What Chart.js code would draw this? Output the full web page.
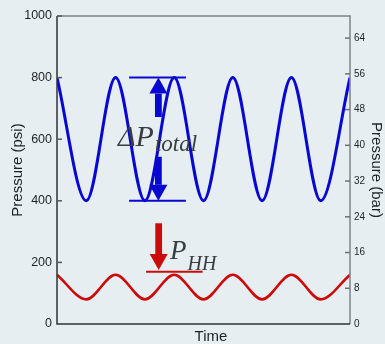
<!DOCTYPE html>
<html>
<head>
<meta charset="utf-8">
<script src="https://cdn.jsdelivr.net/npm/chart.js@4/dist/chart.umd.min.js"></script>
<style>
  html, body { margin: 0; padding: 0; background: #e6eef2; }
  #wrap { width: 385px; height: 344px; }
</style>
</head>
<body>
<div id="wrap"><canvas id="c"></canvas></div>
<script>
// time steps (half periods) and the two pressure traces, psi
const times = [0, 1, 2, 3, 4, 5, 6, 7, 8, 9, 10];
const totalPsi = [800, 400, 800, 400, 800, 400, 800, 400, 800, 400, 800];
const hhPsi = [160, 80, 160, 80, 160, 80, 160, 80, 160, 80, 160];

const psiTicks = [0, 200, 400, 600, 800, 1000];
const barTicks = [0, 8, 16, 24, 32, 40, 48, 56, 64];
const PSI_PER_BAR = 14.5038;

// annotation anchors in data units (x = time step, y = psi)
const deltaMarks = { x0: 2.46, x1: 4.40, hi: 800, lo: 400, arrowX: 3.46, upTail: 672, downTail: 543 };
const hhMarks = { x0: 3.04, x1: 4.97, y: 170, arrowX: 3.47, tail: 327, tip: 175 };

const BLUE = "#0808d0";
const RED = "#cc0a0a";
const TEXT = "#3a3d3f";

function drawArrow(ctx, x, yTail, yTip, color) {
    const dir = yTip < yTail ? -1 : 1;
    const headL = 16, headW = 9, shaft = 3.4;
    const yBase = yTip - dir * headL;
    ctx.fillStyle = color;
    ctx.fillRect(x - shaft, Math.min(yTail, yBase), shaft * 2, Math.abs(yBase - yTail));
    ctx.beginPath();
    ctx.moveTo(x - headW, yBase);
    ctx.lineTo(x + headW, yBase);
    ctx.lineTo(x, yTip);
    ctx.closePath();
    ctx.fill();
}

const decorations = {
    id: "decorations",
    afterDraw(chart) {
        const { ctx, chartArea: a, scales } = chart;
        const xs = scales.x, ys = scales.y, yb = scales.y1;
        ctx.save();

        // frame: top + right grey, left + bottom dark
        ctx.lineWidth = 1.5;
        ctx.strokeStyle = "#7d8285";
        ctx.beginPath();
        ctx.moveTo(a.left, a.top);
        ctx.lineTo(a.right, a.top);
        ctx.lineTo(a.right, a.bottom);
        ctx.stroke();
        ctx.strokeStyle = "#2f3336";
        ctx.beginPath();
        ctx.moveTo(a.left, a.top);
        ctx.lineTo(a.left, a.bottom);
        ctx.lineTo(a.right, a.bottom);
        ctx.stroke();

        // inward tick marks
        ctx.lineWidth = 1.5;
        ctx.strokeStyle = "#55595c";
        ys.ticks.forEach((t) => {
            const y = ys.getPixelForValue(t.value);
            if (t.value === 0) return;
            ctx.beginPath();
            ctx.moveTo(a.left, y);
            ctx.lineTo(a.left + 5, y);
            ctx.stroke();
        });
        ctx.strokeStyle = "#6d7174";
        yb.ticks.forEach((t) => {
            const y = yb.getPixelForValue(t.value);
            if (t.value === 0) return;
            ctx.beginPath();
            ctx.moveTo(a.right - 5, y);
            ctx.lineTo(a.right, y);
            ctx.stroke();
        });

        // delta P total markers
        ctx.lineWidth = 2;
        ctx.strokeStyle = BLUE;
        [deltaMarks.hi, deltaMarks.lo].forEach((v) => {
            const y = ys.getPixelForValue(v);
            ctx.beginPath();
            ctx.moveTo(xs.getPixelForValue(deltaMarks.x0), y);
            ctx.lineTo(xs.getPixelForValue(deltaMarks.x1), y);
            ctx.stroke();
        });
        const ax = xs.getPixelForValue(deltaMarks.arrowX);
        drawArrow(ctx, ax, ys.getPixelForValue(deltaMarks.upTail), ys.getPixelForValue(deltaMarks.hi), BLUE);
        drawArrow(ctx, ax, ys.getPixelForValue(deltaMarks.downTail), ys.getPixelForValue(deltaMarks.lo), BLUE);

        // P HH marker
        ctx.strokeStyle = RED;
        const hy = ys.getPixelForValue(hhMarks.y);
        ctx.beginPath();
        ctx.moveTo(xs.getPixelForValue(hhMarks.x0), hy);
        ctx.lineTo(xs.getPixelForValue(hhMarks.x1), hy);
        ctx.stroke();
        drawArrow(ctx, xs.getPixelForValue(hhMarks.arrowX), ys.getPixelForValue(hhMarks.tail), ys.getPixelForValue(hhMarks.tip), RED);

        // labels
        ctx.fillStyle = TEXT;
        ctx.textAlign = "left";
        ctx.textBaseline = "alphabetic";
        const serif = "'Liberation Serif', 'DejaVu Serif', serif";
        let tx = 118, ty = 146;
        ctx.font = "italic 30px " + serif;
        ctx.fillText("\u0394P", tx, ty);
        tx += ctx.measureText("\u0394P").width + 1;
        ctx.font = "italic 23px " + serif;
        ctx.fillText("total", tx, ty + 5);

        tx = 170; ty = 259;
        ctx.font = "italic 27px " + serif;
        ctx.fillText("P", tx, ty);
        tx += ctx.measureText("P").width + 1;
        ctx.font = "italic 20px " + serif;
        ctx.fillText("HH", tx, ty + 11);

        // x title
        ctx.fillStyle = "#1e2124";
        ctx.font = "15px 'Liberation Sans', Arial, sans-serif";
        ctx.textAlign = "center";
        ctx.textBaseline = "middle";
        ctx.fillText("Time", 211, 337);
        ctx.restore();
    },
};

new Chart(document.getElementById("c"), {
    type: "line",
    data: {
        datasets: [
            {
                label: "Total pressure",
                data: times.map((t, i) => ({ x: t, y: totalPsi[i] })),
                borderColor: BLUE,
                borderWidth: 3,
                pointRadius: 0,
                cubicInterpolationMode: "monotone",
                yAxisID: "y",
            },
            {
                label: "Hydrostatic head",
                data: times.map((t, i) => ({ x: t, y: hhPsi[i] })),
                borderColor: RED,
                borderWidth: 2.6,
                pointRadius: 0,
                cubicInterpolationMode: "monotone",
                yAxisID: "y",
            },
        ],
    },
    options: {
        responsive: true,
        maintainAspectRatio: false,
        animation: false,
        layout: { padding: { top: 16 } },
        plugins: { legend: { display: false }, tooltip: { enabled: false } },
        scales: {
            x: {
                type: "linear",
                min: 0,
                max: 10,
                grid: { display: false, drawTicks: false },
                border: { display: false },
                ticks: { display: false },
                afterFit: (s) => { s.height = 20; },
            },
            y: {
                type: "linear",
                position: "left",
                min: 0,
                max: 1000,
                grid: { display: false, drawTicks: false },
                border: { display: false },
                afterBuildTicks: (s) => { s.ticks = psiTicks.map((v) => ({ value: v })); },
                ticks: {
                    padding: 5,
                    color: "#1e2124",
                    font: { family: "'Liberation Sans', Arial, sans-serif", size: 12.5 },
                    callback: (v) => String(v),
                },
                title: {
                    display: true,
                    text: "Pressure (psi)",
                    color: "#1e2124",
                    font: { family: "'Liberation Sans', Arial, sans-serif", size: 15, lineHeight: 1.2 },
                    padding: { top: 9, bottom: 0 },
                },
                afterFit: (s) => { s.width = 57; },
            },
            y1: {
                type: "linear",
                position: "right",
                min: 0,
                max: 1000 / PSI_PER_BAR,
                grid: { display: false, drawTicks: false },
                border: { display: false },
                afterBuildTicks: (s) => { s.ticks = barTicks.map((v) => ({ value: v })); },
                ticks: {
                    padding: 4,
                    color: "#1e2124",
                    font: { family: "'Liberation Sans', Arial, sans-serif", size: 10 },
                    callback: (v) => String(v),
                },
                title: {
                    display: true,
                    text: "Pressure (bar)",
                    color: "#1e2124",
                    font: { family: "'Liberation Sans', Arial, sans-serif", size: 15, lineHeight: 1.2 },
                    padding: { top: 0, bottom: 0 },
                },
                afterFit: (s) => { s.width = 35; },
            },
        },
    },
    plugins: [decorations],
});
</script>
</body>
</html>
